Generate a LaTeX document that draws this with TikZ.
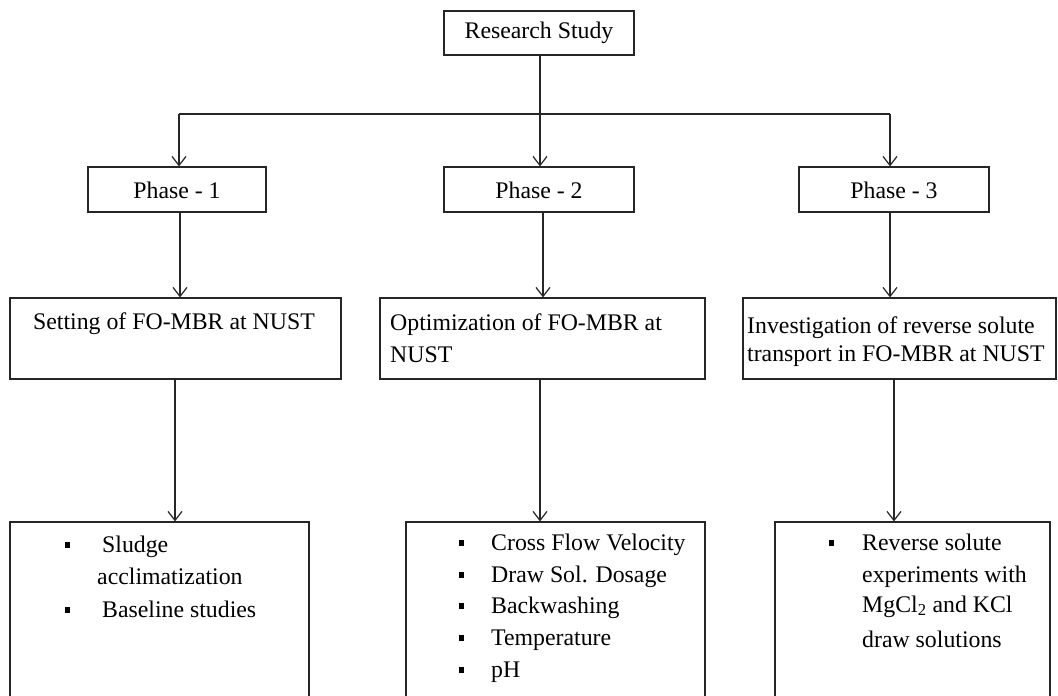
\documentclass[tikz,border=0pt]{standalone}
\usepackage{fontspec}
\setmainfont{Liberation Serif}
\usetikzlibrary{arrows.meta}
\begin{document}
\begin{tikzpicture}[x=1pt,y=-1pt,
  box/.style={draw=black!85, line width=1.2pt, rectangle, inner sep=0pt},
  arr/.style={draw=black!85, line width=1.2pt, -{Straight Barb[length=9pt,width=14pt,line width=1.2pt]}},
  ln/.style={draw=black!85, line width=1.2pt},
  txt/.style={anchor=base west, inner sep=0pt, font=\fontsize{23.8}{32}\selectfont},
  ctxt/.style={anchor=center, inner sep=0pt, font=\fontsize{23.8}{32}\selectfont},
  bul/.style={fill=black, inner sep=0pt, minimum width=5pt, minimum height=6pt}
]
\clip (0,0) rectangle (1058,696);
\fill[white] (0,0) rectangle (1058,696);

% top
\node[box, minimum width=190pt, minimum height=44pt] (rs) at (539,33) {};
\node[ctxt] (rst) at (539,33) {Research Study};

% phases
\node[box, minimum width=178pt, minimum height=45pt] (p1) at (177,189.5) {};
\node[box, minimum width=190pt, minimum height=45pt] (p2) at (539,189.5) {};
\node[box, minimum width=190pt, minimum height=45pt] (p3) at (894,189.5) {};
\node[ctxt] (p1t) at (177,190) {Phase - 1};
\node[ctxt] (p2t) at (539,190) {Phase - 2};
\node[ctxt] (p3t) at (894,190) {Phase - 3};

\coordinate (j1) at (179,114);
\coordinate (j2) at (540,114);
\coordinate (j3) at (890,114);
\draw[ln] (j1) -- (j3);
\draw[arr] ([xshift=1pt]rs.south) -- ([xshift=1pt]rs.south |- p2.north);
\draw[arr] (j1) -- (j1 |- p1.north);
\draw[arr] (j3) -- (j3 |- p3.north);

% second row
\node[box, minimum width=331pt, minimum height=81pt] (s1) at (175.5,338.5) {};
\node[box, minimum width=325pt, minimum height=81pt] (s2) at (542.5,338.5) {};
\node[box, minimum width=313pt, minimum height=81pt] (s3) at (899.5,338.5) {};
\node[txt] (s1t) at (33,329) {Setting of FO-MBR at NUST};
\node[txt] (s2a) at (390,330) {Optimization of FO-MBR at};
\node[txt] (s2b) at (390,362) {NUST};
\node[txt] (s3a) at (747,333) {Investigation of reverse solute};
\node[txt] (s3b) at (747,361) {transport in FO-MBR at NUST};

\draw[arr] ([xshift=3pt]p1.south) -- ([xshift=3pt]p1.south |- s1.north);
\draw[arr] ([xshift=4pt]p2.south) -- ([xshift=4pt]p2.south |- s2.north);
\draw[arr] ([xshift=-4pt]p3.south) -- ([xshift=-4pt]p3.south |- s3.north);

% third row
\node[box, minimum width=299pt, minimum height=188pt] (b1) at (159.5,616) {};
\node[box, minimum width=299pt, minimum height=188pt] (b2) at (555.5,616) {};
\node[box, minimum width=275pt, minimum height=188pt] (b3) at (912.5,616) {};

\draw[arr] ([xshift=-0.5pt]s1.south) -- ([xshift=-0.5pt]s1.south |- b1.north);
\draw[arr] ([xshift=-2.5pt]s2.south) -- ([xshift=-2.5pt]s2.south |- b2.north);
\draw[arr] ([xshift=-5.5pt]s3.south) -- ([xshift=-5.5pt]s3.south |- b3.north);

% box 1 items
\node[bul] (u11) at (67,545) {};
\node[txt] (t11a) at (102,552) {Sludge};
\node[txt] (t11b) at (97,584) {acclimatization};
\node[bul] (u12) at (67,610) {};
\node[txt] (t12) at (102,617) {Baseline studies};

% box 2 items
\node[bul] (u21) at (461,543) {};
\node[txt] (t21) at (491,550) {Cross Flow Velocity};
\node[bul] (u22) at (461,575) {};
\node[txt] (t22) at (491,582) {Draw Sol. Dosage};
\node[bul] (u23) at (461,606) {};
\node[txt] (t23) at (491,613) {Backwashing};
\node[bul] (u24) at (461,638) {};
\node[txt] (t24) at (491,645) {Temperature};
\node[bul] (u25) at (461,670) {};
\node[txt] (t25) at (491,677) {pH};

% box 3 items
\node[bul] (u31) at (831,543) {};
\node[txt] (t31a) at (862,550) {Reverse solute};
\node[txt] (t31b) at (862,582) {experiments with};
\node[txt] (t31c) at (862,612) {MgCl\textsubscript{2} and KCl};
\node[txt] (t31d) at (862,647) {draw solutions};
\end{tikzpicture}
\end{document}
